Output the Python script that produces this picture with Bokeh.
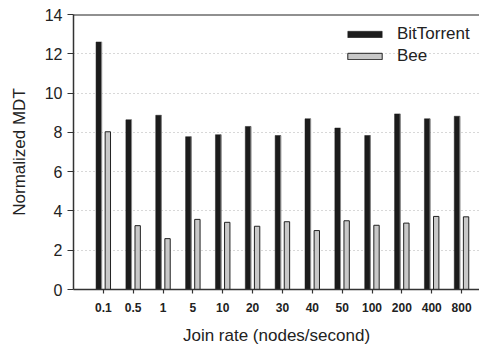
from bokeh.plotting import figure
from bokeh.models import ColumnDataSource, FixedTicker, Span, Legend, LegendItem
from bokeh.transform import dodge
from bokeh.embed import file_html
from bokeh.resources import INLINE

categories = ["0.1", "0.5", "1", "5", "10", "20", "30", "40", "50", "100", "200", "400", "800"]
bittorrent = [12.6, 8.64, 8.87, 7.78, 7.88, 8.30, 7.84, 8.69, 8.22, 7.84, 8.94, 8.69, 8.82]
bee = [8.03, 3.25, 2.59, 3.57, 3.42, 3.22, 3.45, 3.00, 3.50, 3.27, 3.38, 3.72, 3.70]
y_ticks = [0, 2, 4, 6, 8, 10, 12, 14]

idx = list(range(len(categories)))
src = ColumnDataSource(dict(x=idx, bt=bittorrent, bee=bee))

FONT = "Liberation Sans"

p = figure(width=479, height=347, output_backend="svg", toolbar_location=None,
           x_range=(-1, 12.6), y_range=(0, 14),
           min_border_left=73, min_border_top=14, min_border_right=0, min_border_bottom=56)
p.outline_line_color = None
p.background_fill_color = "white"
p.border_fill_color = "white"

r_bt = p.vbar(x=dodge("x", -0.15, range=p.x_range), top="bt", width=0.19, source=src,
              fill_color="#1c1c1c", line_color="#1c1c1c", line_width=0.5)
p.vbar(x=dodge("x", -0.06, range=p.x_range), top="bt", width=0.025, source=src,
       fill_color="#9a9a9a", line_color=None)
r_bee = p.vbar(x=dodge("x", 0.15, range=p.x_range), top="bee", width=0.18, source=src,
               fill_color="#c8c8c8", line_color="#222222", line_width=1)

# top border line
p.add_layout(Span(location=14, dimension="width", line_color="#222222", line_width=2))

# axes
p.xaxis.ticker = FixedTicker(ticks=idx)
p.xaxis.major_label_overrides = {i: c for i, c in zip(idx, categories)}
p.xaxis.minor_tick_line_color = None
p.xaxis.major_tick_in = 0
p.xaxis.major_tick_out = 4
p.xaxis.major_label_text_font = FONT
p.xaxis.major_label_text_font_style = "bold"
p.xaxis.major_label_text_font_size = "12px"
p.xaxis.major_label_text_color = "#222222"
p.xaxis.major_label_standoff = 9
p.xaxis.axis_label = "Join rate (nodes/second)"
p.xaxis.axis_label_text_font = FONT
p.xaxis.axis_label_text_font_style = "normal"
p.xaxis.axis_label_text_font_size = "17px"
p.xaxis.axis_label_text_color = "#222222"
p.xaxis.axis_label_standoff = 11

p.yaxis.ticker = FixedTicker(ticks=y_ticks)
p.yaxis.minor_tick_line_color = None
p.yaxis.major_tick_in = 0
p.yaxis.major_tick_out = 6
p.yaxis.major_label_text_font = FONT
p.yaxis.major_label_text_font_size = "16px"
p.yaxis.major_label_text_color = "#222222"
p.yaxis.major_label_standoff = 5
p.yaxis.axis_label = "Normalized MDT"
p.yaxis.axis_label_text_font = FONT
p.yaxis.axis_label_text_font_style = "normal"
p.yaxis.axis_label_text_font_size = "17px"
p.yaxis.axis_label_text_color = "#222222"
p.yaxis.axis_label_standoff = 13

for ax in (p.xaxis, p.yaxis):
    ax.axis_line_color = "#333333"
    ax.axis_line_width = 1.5
    ax.major_tick_line_color = "#333333"
    ax.major_tick_line_width = 1.2

p.xgrid.grid_line_color = None
p.ygrid.ticker = FixedTicker(ticks=[2, 4, 6, 8, 10, 12])
p.ygrid.grid_line_color = "#b0b0b0"
p.ygrid.grid_line_dash = "1 3"
p.ygrid.grid_line_width = 1

legend = Legend(items=[LegendItem(label="BitTorrent", renderers=[r_bt]),
                       LegendItem(label="Bee", renderers=[r_bee])],
                location=(270, 223), orientation="vertical")
legend.border_line_color = None
legend.background_fill_alpha = 0
legend.padding = 0
legend.margin = 0
legend.spacing = 2
legend.glyph_width = 43
legend.glyph_height = 8
legend.label_height = 14
legend.label_standoff = 11
legend.label_text_font = FONT
legend.label_text_font_size = "17px"
legend.label_text_color = "#222222"
p.add_layout(legend)

open("out.html", "w").write(file_html(p, INLINE))
